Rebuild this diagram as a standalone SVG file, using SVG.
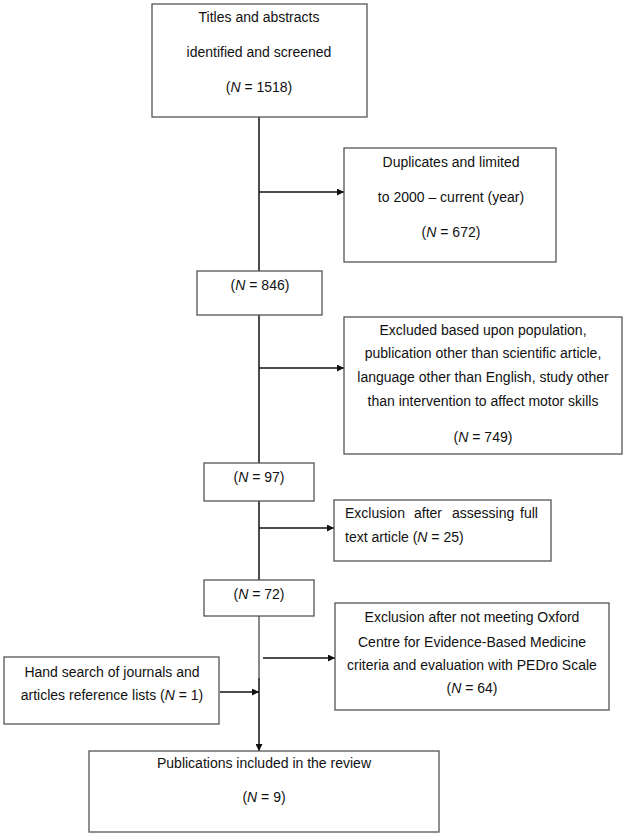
<svg xmlns="http://www.w3.org/2000/svg" width="626" height="836" viewBox="0 0 626 836">
<style>
.box{fill:#fff;stroke:#555;stroke-width:1.3}
text{font-family:"Liberation Sans",Arial,sans-serif;font-size:14px;fill:#111}
.c{text-anchor:middle}
.i{font-style:italic}
.ln{stroke:#111;stroke-width:1.5;fill:none}
</style>
<defs>
<marker id="ah" viewBox="0 0 10 10" refX="10" refY="5" markerWidth="8" markerHeight="7" markerUnits="userSpaceOnUse" orient="auto">
<path d="M0,0 L10,5 L0,10 z" fill="#111"/>
</marker>
</defs>
<g id="connectors">
<line class="ln" x1="259" y1="117" x2="259" y2="271"/>
<line class="ln" x1="259" y1="192" x2="344" y2="192" marker-end="url(#ah)"/>
<line class="ln" x1="259" y1="315" x2="259" y2="463"/>
<line class="ln" x1="259" y1="368" x2="344" y2="368" marker-end="url(#ah)"/>
<line class="ln" x1="259" y1="501" x2="259" y2="580"/>
<line class="ln" x1="259" y1="528" x2="334" y2="528" marker-end="url(#ah)"/>
<line class="ln" x1="259" y1="616" x2="259" y2="678" style="stroke-width:1"/>
<line class="ln" x1="259" y1="678" x2="259" y2="751" marker-end="url(#ah)"/>
<line class="ln" x1="263" y1="658" x2="335" y2="658" marker-end="url(#ah)"/>
<line class="ln" x1="220" y1="692" x2="259" y2="692" marker-end="url(#ah)"/>
</g>
<g id="n1">
<rect class="box" x="152" y="4" width="215" height="113"/>
<text class="c" x="259" y="22">Titles and abstracts</text>
<text class="c" x="259" y="57">identified and screened</text>
<text class="c" x="259" y="92">(<tspan class="i">N</tspan> = 1518)</text>
</g>
<g id="n2">
<rect class="box" x="344" y="148" width="212" height="114"/>
<text class="c" x="451" y="167">Duplicates and limited</text>
<text class="c" x="451" y="202">to 2000 – current (year)</text>
<text class="c" x="451" y="237">(<tspan class="i">N</tspan> = 672)</text>
</g>
<g id="n3">
<rect class="box" x="197" y="271" width="125" height="44"/>
<text class="c" x="260" y="290">(<tspan class="i">N</tspan> = 846)</text>
</g>
<g id="n4">
<rect class="box" x="344" y="317" width="278" height="137"/>
<text class="c" x="483" y="335">Excluded based upon population,</text>
<text class="c" x="483" y="358">publication other than scientific article,</text>
<text class="c" x="483" y="382">language other than English, study other</text>
<text class="c" x="483" y="406">than intervention to affect motor skills</text>
<text class="c" x="483" y="442">(<tspan class="i">N</tspan> = 749)</text>
</g>
<g id="n5">
<rect class="box" x="204" y="463" width="110" height="38"/>
<text class="c" x="259" y="482">(<tspan class="i">N</tspan> = 97)</text>
</g>
<g id="n6">
<rect class="box" x="334" y="500" width="217" height="61"/>
<text y="518"><tspan x="345">Exclusion</tspan><tspan x="414">after</tspan><tspan x="452">assessing</tspan><tspan x="520">full</tspan></text>
<text x="345" y="542">text article (<tspan class="i">N</tspan> = 25)</text>
</g>
<g id="n7">
<rect class="box" x="204" y="580" width="110" height="36"/>
<text class="c" x="259" y="599">(<tspan class="i">N</tspan> = 72)</text>
</g>
<g id="n8">
<rect class="box" x="335" y="603" width="274" height="107"/>
<text class="c" x="472" y="622">Exclusion after not meeting Oxford</text>
<text class="c" x="472" y="647">Centre for Evidence-Based Medicine</text>
<text class="c" x="472" y="670">criteria and evaluation with PEDro Scale</text>
<text class="c" x="472" y="693">(<tspan class="i">N</tspan> = 64)</text>
</g>
<g id="n9">
<rect class="box" x="4" y="657" width="215" height="67"/>
<text class="c" x="112" y="677">Hand search of journals and</text>
<text class="c" x="112" y="700">articles reference lists (<tspan class="i">N</tspan> = 1)</text>
</g>
<g id="n10">
<rect class="box" x="89" y="751" width="350" height="81"/>
<text class="c" x="264" y="768">Publications included in the review</text>
<text class="c" x="264" y="802">(<tspan class="i">N</tspan> = 9)</text>
</g>
</svg>
